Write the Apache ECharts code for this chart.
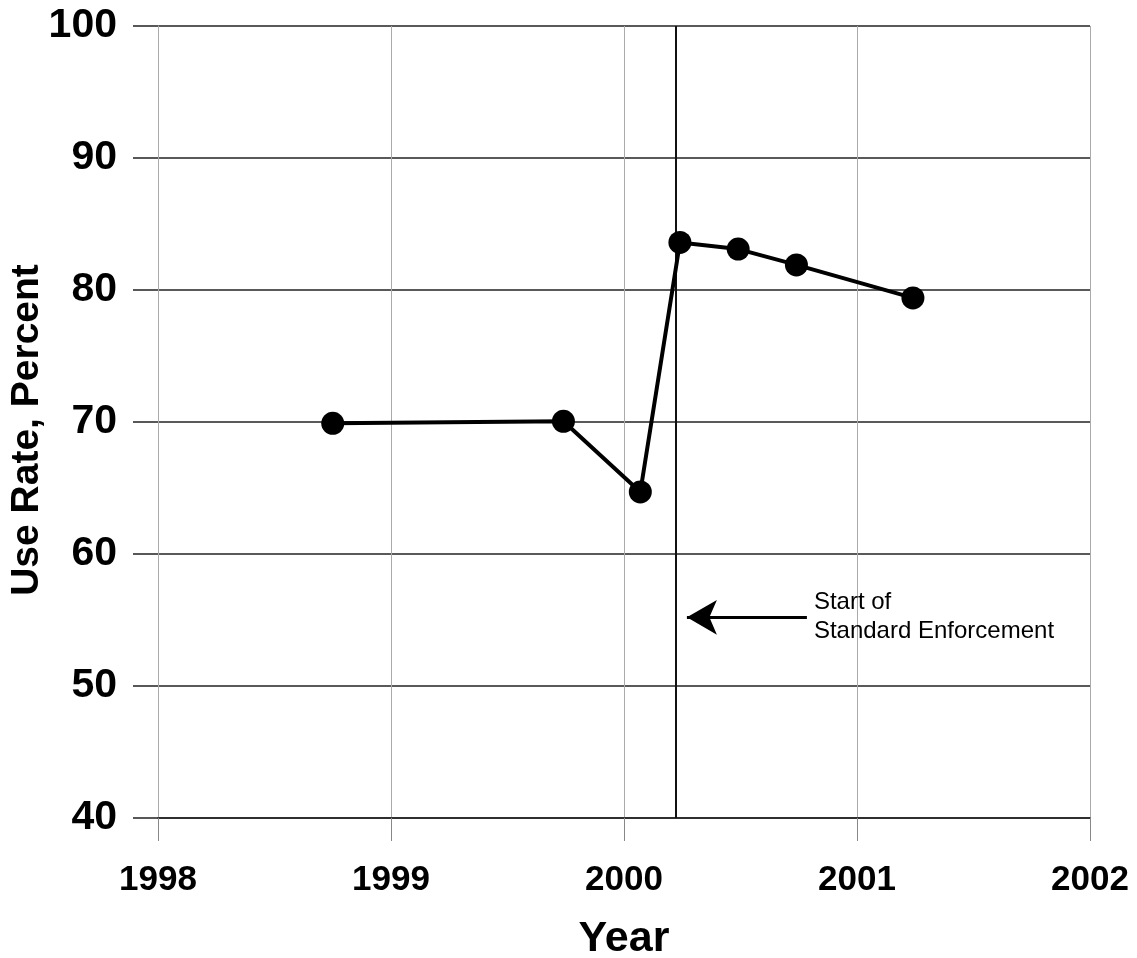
<!DOCTYPE html>
<html>
<head>
<meta charset="utf-8">
<script src="https://cdn.jsdelivr.net/npm/echarts@6/dist/echarts.min.js"></script>
<style>
html,body{margin:0;padding:0;background:#fff;}
#chart{width:1137px;height:958px;}
</style>
</head>
<body>
<div id="chart"></div>
<script>
// Data (decimal years, percent use rate)
const years = [1998.75, 1999.74, 2000.07, 2000.24, 2000.49, 2000.74, 2001.24];
const useRate = [69.9, 70.05, 64.7, 83.6, 83.1, 81.9, 79.4];
const xTicks = [1998, 1999, 2000, 2001, 2002];
const yTicks = [40, 50, 60, 70, 80, 90, 100];
const enforcementStart = 2000.22;
const arrowFrom = [2000.785, 55.2];
const arrowTo = [2000.27, 55.2];
const annotationLines = ['Start of', 'Standard Enforcement'];
const yAxisTitle = 'Use Rate, Percent';

const font = '"Liberation Sans", Arial, sans-serif';
const chart = echarts.init(document.getElementById('chart'));

const option = {
  animation: false,
  backgroundColor: '#fff',
  grid: { left: 158, right: 47, top: 26, bottom: 140, containLabel: false, outerBoundsMode: 'none' },
  xAxis: {
    type: 'value',
    min: xTicks[0], max: xTicks[xTicks.length - 1], interval: 1,
    name: 'Year', nameLocation: 'middle', nameGap: 100,
    nameTextStyle: { fontFamily: font, fontWeight: 'bold', fontSize: 43, color: '#000' },
    axisLine: { show: true, onZero: false, lineStyle: { color: '#222', width: 1.5 } },
    axisTick: { show: true, length: 23, lineStyle: { color: '#888', width: 1 } },
    axisLabel: { margin: 45, fontFamily: font, fontWeight: 'bold', fontSize: 35, color: '#000',
      formatter: v => String(v) },
    splitLine: { show: true, lineStyle: { color: '#aaa', width: 1 } }
  },
  yAxis: {
    type: 'value',
    min: yTicks[0], max: yTicks[yTicks.length - 1], interval: 10,
    axisLine: { show: true, lineStyle: { color: '#aaa', width: 1 } },
    axisTick: { show: true, length: 25, lineStyle: { color: '#222', width: 1.5 } },
    axisLabel: { margin: 41, fontFamily: font, fontWeight: 'bold', fontSize: 41, color: '#000' },
    splitLine: { show: true, lineStyle: { color: '#222', width: 1.5 } }
  },
  series: [{
    type: 'line',
    data: years.map((x, i) => [x, useRate[i]]),
    symbol: 'circle', symbolSize: 23,
    lineStyle: { color: '#000', width: 4 },
    itemStyle: { color: '#000' },
    z: 5,
    markLine: {
      silent: true,
      animation: false,
      label: { show: false },
      data: [
        [{ coord: [enforcementStart, yTicks[0]], symbol: 'none', lineStyle: { color: '#111', width: 2, type: 'solid' } },
         { coord: [enforcementStart, yTicks[yTicks.length - 1]], symbol: 'none' }],
        [{ coord: arrowFrom, symbol: 'none', lineStyle: { color: '#000', width: 3, type: 'solid' } },
         { coord: arrowTo, symbol: 'arrow', symbolSize: [26, 30] }]
      ]
    }
  }]
};
chart.setOption(option);

const p = chart.convertToPixel({ xAxisIndex: 0, yAxisIndex: 0 }, arrowFrom);
chart.setOption({
  graphic: [{
    type: 'text',
    left: p[0] + 7, top: p[1] - 29,
    style: {
      text: annotationLines.join('\n'),
      font: '24px ' + font,
      lineHeight: 29,
      fill: '#000'
    }
  }, {
    type: 'text',
    x: 27, y: 430,
    rotation: Math.PI / 2,
    style: {
      text: yAxisTitle,
      font: 'bold 39px ' + font,
      align: 'center',
      verticalAlign: 'middle',
      fill: '#000'
    }
  }]
});
</script>
</body>
</html>
